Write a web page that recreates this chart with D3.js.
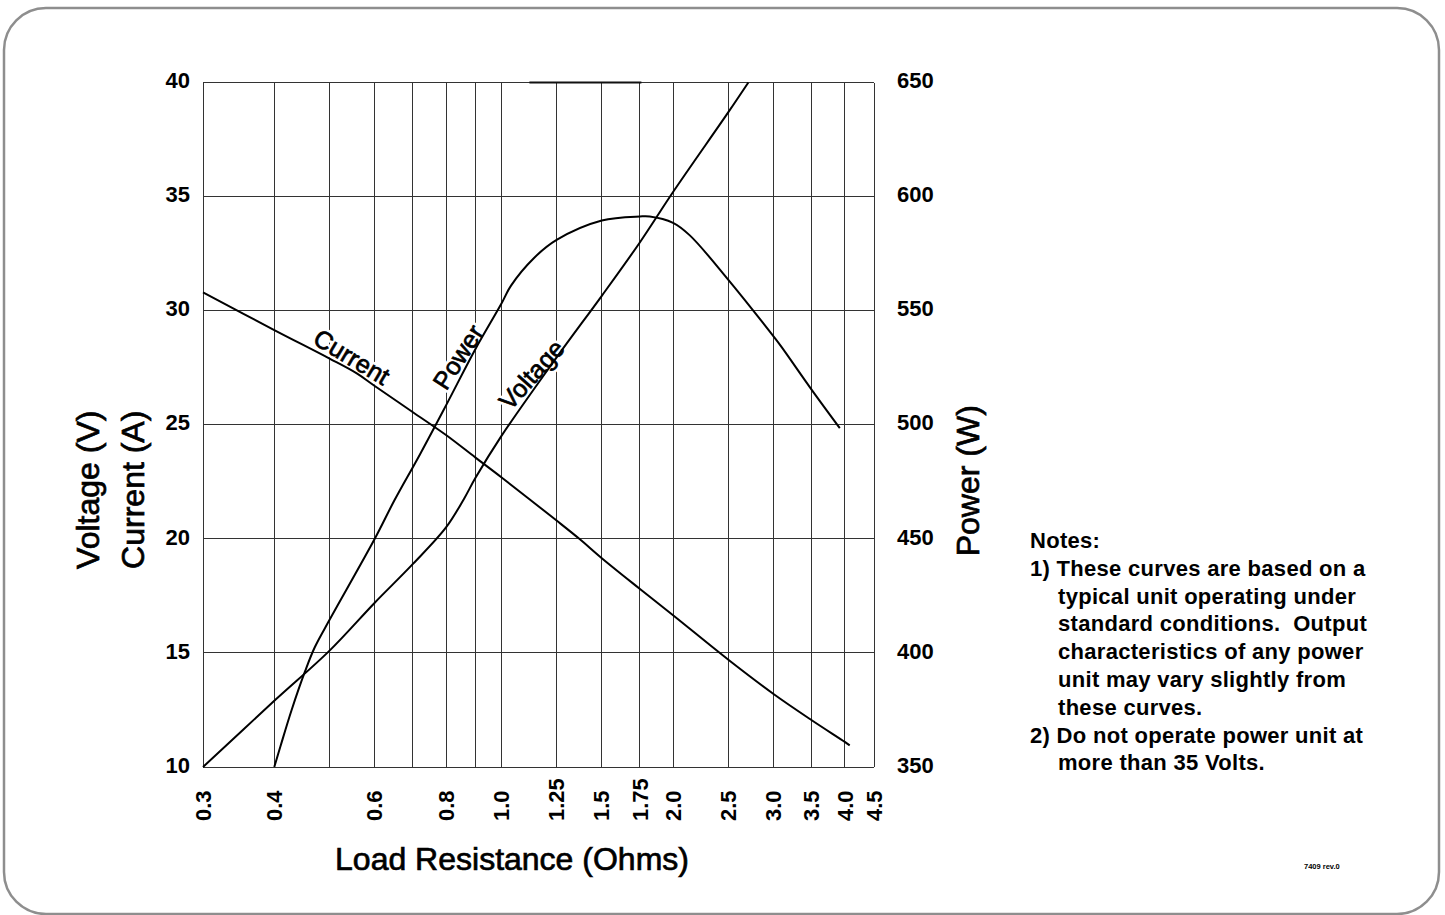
<!DOCTYPE html>
<html lang="en">
<head>
<meta charset="UTF-8">
<title>Output Characteristics vs Load Resistance</title>
<style>
  body { margin: 0; background: #fff; font-family: Arial, "Liberation Sans", sans-serif; }
  .grid line { stroke: #333; stroke-width: 1; shape-rendering: crispEdges; }
  .tick-label { font-size: 22px; font-weight: bold; fill: #000; }
  .title { font-size: 32px; fill: #000; stroke: #000; stroke-width: 0.7; }
  .curve { fill: none; stroke: #000; stroke-width: 2; }
  .label-halo { font-size: 25px; fill: #fff; stroke: #fff; stroke-width: 6; stroke-linejoin: round; }
  .curve-label { font-size: 25px; fill: #000; stroke: #000; stroke-width: 0.7; }
  .notes { font-size: 22px; font-weight: bold; fill: #000; letter-spacing: 0.3px; white-space: pre; }
</style>
</head>
<body>
<svg width="1445" height="915"></svg>
<script src="https://d3js.org/d3.v7.min.js"></script>
<script>
// grid / tick values
const xTicks = [0.3, 0.4, 0.5, 0.6, 0.7, 0.8, 0.9, 1.0, 1.25, 1.5, 1.75, 2.0, 2.5, 3.0, 3.5, 4.0, 4.5];
const xTickLabels = ["0.3", "0.4", "", "0.6", "", "0.8", "", "1.0", "1.25", "1.5", "1.75", "2.0", "2.5", "3.0", "3.5", "4.0", "4.5"];
const leftTicks = [10, 15, 20, 25, 30, 35, 40];
const rightTicks = [350, 400, 450, 500, 550, 600, 650];

// curves: [ohms, value]
const voltage = [[0.3, 10], [0.4, 12.9], [0.5, 15.1], [0.6, 17.2], [0.7, 18.9], [0.8, 20.5],
  [0.86, 21.75], [0.9, 22.65], [1.0, 24.5], [1.25, 27.95], [1.5, 30.65], [1.75, 33.0],
  [2.0, 35.2], [2.5, 38.7], [2.71, 40]];
const current = [[0.3, 30.8], [0.4, 29.15], [0.5, 27.9], [0.558, 27.25], [0.6, 26.7], [0.7, 25.55],
  [0.8, 24.55], [0.9, 23.57], [1.0, 22.7], [1.25, 20.8], [1.37, 20.0], [1.5, 19.15], [1.75, 17.8],
  [2.0, 16.65], [2.5, 14.7], [3.0, 13.2], [3.5, 12.05], [4.0, 11.1], [4.08, 10.95]];
const power = [[0.4, 350], [0.41, 359], [0.429, 375], [0.453, 392], [0.471, 402.5], [0.5, 414.5],
  [0.6, 450], [0.65, 467], [0.72, 487], [0.8, 508.5], [0.9, 533], [1.0, 553], [1.04, 561],
  [1.14, 573], [1.25, 581], [1.5, 589.5], [1.75, 591.3], [1.82, 591.3], [2.0, 588.5],
  [2.14, 583], [2.5, 563.5], [3.0, 538.7], [3.1, 534], [3.5, 515.3], [3.92, 498.5]];

const notes = [
  ["Notes:", 0],
  ["1) These curves are based on a", 0],
  ["typical unit operating under", 1],
  ["standard conditions.  Output", 1],
  ["characteristics of any power", 1],
  ["unit may vary slightly from", 1],
  ["these curves.", 1],
  ["2) Do not operate power unit at", 0],
  ["more than 35 Volts.", 1]
];

const svg = d3.select("svg");
const plotLeft = 203, plotRight = 874, plotTop = 82.5, plotBottom = 767;

const x = d3.scaleLog().domain([0.3, 4.5]).range([plotLeft, plotRight]);
const yL = d3.scaleLinear().domain([10, 40]).range([plotBottom, plotTop]);
const yR = d3.scaleLinear().domain([350, 650]).range([plotBottom, plotTop]);

// rounded outer frame
svg.append("rect")
  .attr("x", 4).attr("y", 8).attr("width", 1435).attr("height", 906)
  .attr("rx", 42).attr("ry", 42)
  .attr("fill", "none").attr("stroke", "#8e8e8e").attr("stroke-width", 2.5);

// grid
const grid = svg.append("g").attr("class", "grid");
grid.selectAll(".v").data(xTicks).enter().append("line")
  .attr("x1", d => x(d)).attr("x2", d => x(d))
  .attr("y1", plotTop).attr("y2", plotBottom);
grid.selectAll(".h").data(leftTicks).enter().append("line")
  .attr("x1", plotLeft).attr("x2", plotRight)
  .attr("y1", d => yL(d)).attr("y2", d => yL(d));

// darker piece along the top edge
svg.append("line")
  .attr("x1", x(1.12)).attr("x2", x(1.76))
  .attr("y1", plotTop).attr("y2", plotTop)
  .attr("stroke", "#111").attr("stroke-width", 2);

// left tick labels
svg.selectAll(".lt").data(leftTicks).enter().append("text")
  .attr("class", "tick-label")
  .attr("x", plotLeft - 13).attr("y", d => yL(d) - 2)
  .attr("dy", "0.35em").attr("text-anchor", "end")
  .text(d => d);

// right tick labels
svg.selectAll(".rt").data(rightTicks).enter().append("text")
  .attr("class", "tick-label")
  .attr("x", plotRight + 23).attr("y", d => yR(d) - 2)
  .attr("dy", "0.35em").attr("text-anchor", "start")
  .text(d => d);

// bottom tick labels, rotated
svg.selectAll(".bt").data(xTicks.filter((d, i) => xTickLabels[i] !== "")).enter().append("text")
  .attr("class", "tick-label")
  .attr("transform", d => `translate(${x(d)},${plotBottom + 54}) rotate(-90)`)
  .attr("dy", "0.35em").attr("text-anchor", "start")
  .text(d => xTickLabels[xTicks.indexOf(d)]);

// axis titles
svg.append("text").attr("class", "title")
  .attr("x", 512).attr("y", 870)
  .attr("text-anchor", "middle")
  .text("Load Resistance (Ohms)");

svg.append("text").attr("class", "title")
  .attr("transform", `translate(99,${(plotTop + plotBottom) / 2 + 65}) rotate(-90)`)
  .attr("text-anchor", "middle")
  .text("Voltage (V)");

svg.append("text").attr("class", "title")
  .attr("transform", `translate(144,${(plotTop + plotBottom) / 2 + 65}) rotate(-90)`)
  .attr("text-anchor", "middle")
  .text("Current (A)");

svg.append("text").attr("class", "title")
  .attr("transform", `translate(979,${(plotTop + plotBottom) / 2 + 56}) rotate(-90)`)
  .attr("text-anchor", "middle")
  .text("Power (W)");

// curve labels (white halo hides the grid behind them)
const labels = [
  { text: "Current", r: 0.547, v: 27.97, angle: 31 },
  { text: "Power", r: 0.84, v: 27.97, angle: -57 },
  { text: "Voltage", r: 1.13, v: 27.2, angle: -48 }
];
["label-halo", "curve-label"].forEach(cls => {
  svg.selectAll("." + cls).data(labels).enter().append("text")
    .attr("class", cls)
    .attr("transform", d => `translate(${x(d.r)},${yL(d.v)}) rotate(${d.angle})`)
    .attr("text-anchor", "middle").attr("dy", "0.35em")
    .text(d => d.text);
});

// curves
const lineL = d3.line().x(d => x(d[0])).y(d => yL(d[1])).curve(d3.curveCatmullRom.alpha(0.5));
const lineR = d3.line().x(d => x(d[0])).y(d => yR(d[1])).curve(d3.curveCatmullRom.alpha(0.5));

svg.append("path").attr("class", "curve").attr("d", lineL(voltage));
svg.append("path").attr("class", "curve").attr("d", lineL(current));
svg.append("path").attr("class", "curve").attr("d", lineR(power));

// notes
svg.selectAll(".notes").data(notes).enter().append("text")
  .attr("class", "notes")
  .attr("x", d => 1030 + d[1] * 28)
  .attr("y", (d, i) => 548 + i * 27.8)
  .text(d => d[0]);

// drawing number
svg.append("text")
  .attr("x", 1304).attr("y", 869)
  .style("font-size", "7.5px").style("font-weight", "bold")
  .text("7409 rev.0");
</script>
</body>
</html>
